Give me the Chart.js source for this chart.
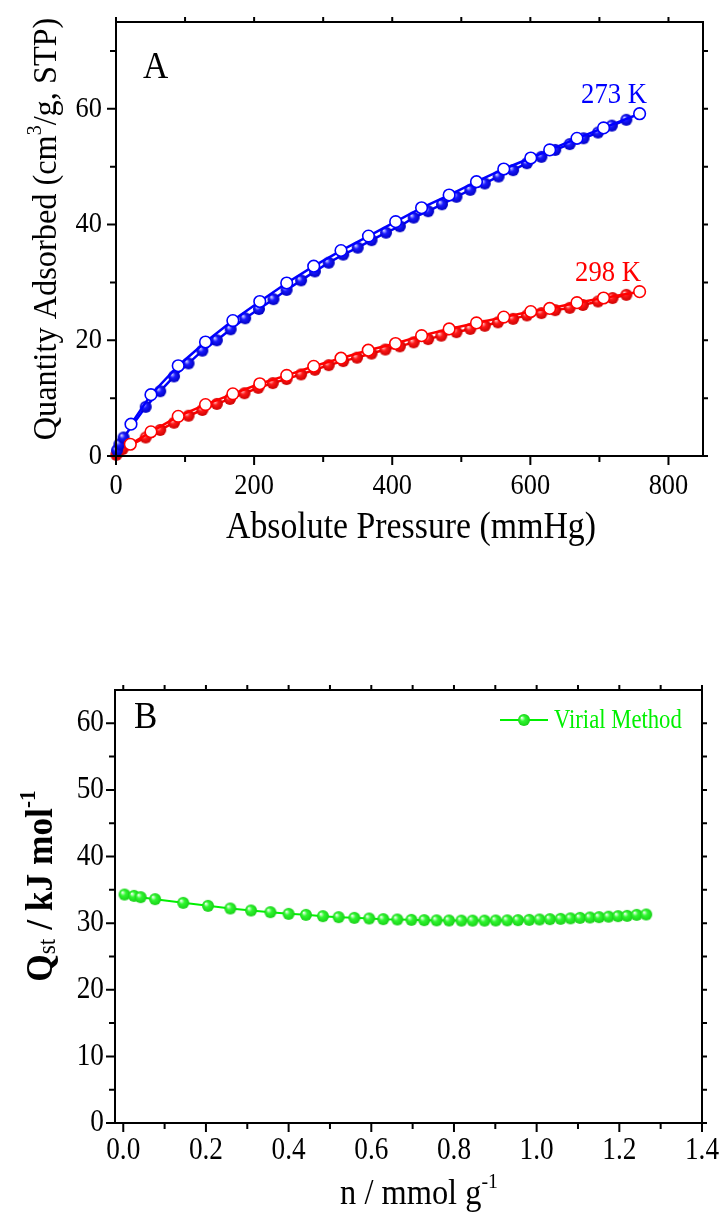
<!DOCTYPE html>
<html><head><meta charset="utf-8">
<script src="https://cdn.jsdelivr.net/npm/chart.js@4.4.0/dist/chart.umd.min.js"></script>
<style>
html,body{margin:0;padding:0;background:#fff;}
#wrap{position:relative;width:724px;height:1216px;overflow:hidden;}
.box{position:absolute;left:0;width:724px;}
</style></head><body>
<div id="wrap">
<div class="box" style="top:0;height:600px"><canvas id="ca" width="724" height="600"></canvas></div>
<div class="box" style="top:600px;height:616px"><canvas id="cb" width="724" height="616"></canvas></div>
</div>
<script>
// ---------- Panel A data (Absolute Pressure mmHg, Quantity Adsorbed cm3/g STP) ----------
const ads273P = [1.5, 4.8, 11, 43, 64, 84, 105, 125, 146, 166, 187, 207, 228, 247, 268, 288, 308, 329, 350, 370, 391, 411, 431, 452, 472, 493, 513, 534, 554, 575, 595, 616, 636, 657, 677, 698, 718, 739];
const ads273Q = [1.0, 2.0, 3.2, 8.5, 11.2, 13.75, 16.0, 18.2, 20.0, 21.9, 23.8, 25.4, 27.1, 28.7, 30.35, 31.9, 33.4, 34.8, 36.0, 37.3, 38.6, 39.7, 41.2, 42.3, 43.5, 44.8, 46.0, 47.1, 48.3, 49.4, 50.6, 51.7, 52.9, 53.9, 54.9, 55.9, 57.1, 58.1];
const des273P = [21.7, 50.6, 90.1, 129.6, 169.2, 208.2, 247.2, 286.3, 325.8, 365.6, 405, 442.5, 482.4, 522, 561.5, 600.6, 628, 667.5, 706, 758.2];
const des273Q = [5.5, 10.6, 15.6, 19.7, 23.4, 26.7, 29.9, 32.8, 35.5, 38.0, 40.5, 42.9, 45.1, 47.4, 49.6, 51.5, 52.9, 54.9, 56.7, 59.15];
const ads298P = [0.5, 2.4, 9.6, 43, 64, 84, 105, 125, 146, 165, 186, 206, 227, 247, 268, 288, 308, 329, 349, 370, 390, 411, 431, 452, 471, 493, 513, 534, 553, 575, 595, 616, 636, 657, 676, 698, 719, 739];
const ads298Q = [0.2, 0.6, 1.2, 3.2, 4.5, 5.75, 6.96, 7.95, 9.0, 9.87, 10.85, 11.78, 12.6, 13.3, 14.1, 14.9, 15.7, 16.4, 17.0, 17.7, 18.4, 18.95, 19.64, 20.2, 20.8, 21.4, 21.96, 22.5, 23.1, 23.7, 24.3, 24.7, 25.2, 25.6, 26.1, 26.7, 27.3, 27.85];
const des298P = [20.7, 50.6, 90.1, 129.6, 169.2, 208.2, 247.2, 286.3, 325.8, 365.3, 404.8, 442.5, 482.4, 522, 561.5, 600.6, 628, 667.5, 706, 758.2];
const des298Q = [2.03, 4.18, 6.85, 8.88, 10.74, 12.48, 13.93, 15.5, 16.9, 18.28, 19.44, 20.8, 21.96, 23.0, 24.0, 24.96, 25.5, 26.5, 27.3, 28.4];
const xTicksA = [0, 200, 400, 600, 800];
const xLabelsA = ['0', '200', '400', '600', '800'];
const xMinorA = [100, 300, 500, 700];
const yTicksA = [0, 20, 40, 60];
const yLabelsA = ['0', '20', '40', '60'];
const yMinorA = [10, 30, 50, 70];

// ---------- Panel B data (n mmol/g, Qst kJ/mol) ----------
const qstN = [0.003, 0.026, 0.042, 0.077, 0.145, 0.205, 0.259, 0.309, 0.356, 0.400, 0.442, 0.483, 0.521, 0.559, 0.595, 0.629, 0.663, 0.697, 0.728, 0.758, 0.788, 0.818, 0.845, 0.874, 0.901, 0.929, 0.955, 0.982, 1.007, 1.032, 1.058, 1.082, 1.105, 1.129, 1.151, 1.174, 1.197, 1.219, 1.242, 1.265];
const qstQ = [34.3, 34.1, 33.9, 33.6, 33.05, 32.6, 32.2, 31.9, 31.65, 31.4, 31.25, 31.05, 30.9, 30.8, 30.7, 30.6, 30.55, 30.5, 30.45, 30.42, 30.4, 30.38, 30.38, 30.38, 30.4, 30.42, 30.45, 30.5, 30.55, 30.6, 30.65, 30.72, 30.8, 30.85, 30.9, 30.98, 31.05, 31.1, 31.25, 31.3];
const xTicksB = [0, 0.2, 0.4, 0.6, 0.8, 1.0, 1.2, 1.4];
const xLabelsB = ['0.0', '0.2', '0.4', '0.6', '0.8', '1.0', '1.2', '1.4'];
const xMinorB = [0.1, 0.3, 0.5, 0.7, 0.9, 1.1, 1.3];
const yTicksB = [0, 10, 20, 30, 40, 50, 60];
const yLabelsB = ['0', '10', '20', '30', '40', '50', '60'];
const yMinorB = [5, 15, 25, 35, 45, 55];

const SERIF = '"Liberation Serif", "Times New Roman", serif';
const BLUE = '#0000ff', RED = '#ff0000', GREEN = '#00f000';

function pts(xs, ys) { return xs.map((v, i) => ({ x: v, y: ys[i] })); }

function sphere(base, light, dark, r) {
  const c = document.createElement('canvas');
  const s = Math.ceil(2 * r + 2);
  c.width = c.height = s;
  const g = c.getContext('2d');
  const cx = s / 2, cy = s / 2;
  const grad = g.createRadialGradient(cx - r * 0.38, cy - r * 0.38, r * 0.05, cx, cy, r);
  grad.addColorStop(0, light);
  grad.addColorStop(0.4, base);
  grad.addColorStop(1, dark);
  g.fillStyle = grad;
  g.beginPath(); g.arc(cx, cy, r, 0, Math.PI * 2); g.fill();
  return c;
}
const sphBlue = sphere('#1a1aff', '#d8dcff', '#0000c0', 6);
const sphRed = sphere('#ff1a1a', '#ffd6d6', '#cc0000', 6);
const sphGreen = sphere('#30f830', '#f4fff4', '#18d018', 6);

function richText(ctx, x, y, segs, o) {
  o = o || {};
  ctx.save();
  ctx.translate(x, y);
  if (o.rot) ctx.rotate(o.rot);
  ctx.scale(o.sx || 1, 1);
  ctx.fillStyle = o.color || '#000';
  ctx.textBaseline = o.baseline || 'alphabetic';
  ctx.textAlign = 'left';
  let w = 0;
  for (const s of segs) { ctx.font = s.font; w += ctx.measureText(s.t).width + (s.dx || 0); }
  let cx = o.align === 'center' ? -w / 2 : o.align === 'right' ? -w : 0;
  for (const s of segs) {
    ctx.font = s.font;
    cx += (s.dx || 0);
    ctx.fillText(s.t, cx, s.dy || 0);
    cx += ctx.measureText(s.t).width;
  }
  ctx.restore();
}

const decor = {
  id: 'decor',
  afterDraw(chart, args, opts) {
    const ctx = chart.ctx, a = chart.chartArea, xs = chart.scales.x, ys = chart.scales.y;
    ctx.save();
    ctx.strokeStyle = '#000'; ctx.lineWidth = 2; ctx.lineCap = 'butt';
    ctx.strokeRect(a.left, a.top, a.right - a.left, a.bottom - a.top);
    const MJ = 8, MN = 5, MIR = 4;
    ctx.beginPath();
    const xt = (vals, len) => vals.forEach(v => {
      const p = xs.getPixelForValue(v);
      ctx.moveTo(p, a.bottom + 1); ctx.lineTo(p, a.bottom + 1 + len);
      ctx.moveTo(p, a.top - 1); ctx.lineTo(p, a.top - 1 - MIR);
    });
    const yt = (vals, len) => vals.forEach(v => {
      const p = ys.getPixelForValue(v);
      ctx.moveTo(a.left - 1, p); ctx.lineTo(a.left - 1 - len, p);
      ctx.moveTo(a.right + 1, p); ctx.lineTo(a.right + 1 + MIR, p);
    });
    xt(opts.xMajor, MJ); xt(opts.xMinor, MN); yt(opts.yMajor, MJ); yt(opts.yMinor, MN);
    ctx.stroke();
    const tf = opts.tickFont;
    opts.xMajor.forEach((v, i) => richText(ctx, xs.getPixelForValue(v), opts.xLabelY, [{ t: opts.xLabels[i], font: tf }], { align: 'center', sx: opts.tickSx }));
    opts.yMajor.forEach((v, i) => richText(ctx, opts.yLabelX, ys.getPixelForValue(v), [{ t: opts.yLabels[i], font: tf }], { align: 'right', baseline: 'middle', sx: opts.tickSx }));
    (opts.texts || []).forEach(T => richText(ctx, T.x, T.y, T.segs, T));
    if (opts.legend) opts.legend(ctx);
    ctx.restore();
  }
};

const common = {
  responsive: false, animation: false, events: [],
  plugins: { legend: { display: false }, tooltip: { enabled: false } }
};

// ---------------- Chart A ----------------
new Chart(document.getElementById('ca'), {
  type: 'scatter',
  data: {
    datasets: [
      { label: '273 K desorption', data: pts(des273P, des273Q), showLine: true, borderColor: BLUE, borderWidth: 2.5,
        pointStyle: 'circle', pointRadius: 5.8, pointBackgroundColor: '#fff', pointBorderColor: BLUE, pointBorderWidth: 1.6, order: 0, clip: false },
      { label: '298 K desorption', data: pts(des298P, des298Q), showLine: true, borderColor: RED, borderWidth: 2.5,
        pointStyle: 'circle', pointRadius: 5.8, pointBackgroundColor: '#fff', pointBorderColor: RED, pointBorderWidth: 1.6, order: 1, clip: false },
      { label: '273 K adsorption', data: pts(ads273P, ads273Q), showLine: true, borderColor: BLUE, borderWidth: 2.5,
        pointStyle: sphBlue, pointRadius: 6, order: 2, clip: false },
      { label: '298 K adsorption', data: pts(ads298P, ads298Q), showLine: true, borderColor: RED, borderWidth: 2.5,
        pointStyle: sphRed, pointRadius: 6, order: 3, clip: false }
    ]
  },
  options: Object.assign({}, common, {
    layout: { padding: { top: 22, right: 21, left: 0, bottom: 0 } },
    scales: {
      x: { type: 'linear', min: 0, max: 850, ticks: { display: false }, grid: { display: false }, border: { display: false },
           afterFit(s) { s.height = 144; } },
      y: { type: 'linear', min: 0, max: 75, ticks: { display: false }, grid: { display: false }, border: { display: false },
           afterFit(s) { s.width = 116; } }
    },
    plugins: Object.assign({}, common.plugins, {
      decor: {
        xMajor: xTicksA, xMinor: xMinorA, yMajor: yTicksA, yMinor: yMinorA,
        xLabels: xLabelsA, yLabels: yLabelsA,
        tickFont: '30px ' + SERIF, tickSx: 0.88, xLabelY: 494, yLabelX: 102,
        texts: [
          { x: 143, y: 78, segs: [{ t: 'A', font: '38px ' + SERIF }], sx: 0.92 },
          { x: 647, y: 103, segs: [{ t: '273 K', font: '29px ' + SERIF }], align: 'right', color: BLUE, sx: 0.92 },
          { x: 641, y: 281, segs: [{ t: '298 K', font: '29px ' + SERIF }], align: 'right', color: RED, sx: 0.92 },
          { x: 411, y: 538, segs: [{ t: 'Absolute Pressure (mmHg)', font: '38px ' + SERIF }], align: 'center', sx: 0.89 },
          { x: 56, y: 229, rot: -Math.PI / 2, align: 'center', sx: 0.95,
            segs: [{ t: 'Quantity Adsorbed (cm', font: '34px ' + SERIF }, { t: '3', font: '21px ' + SERIF, dy: -15 }, { t: '/g, STP)', font: '34px ' + SERIF }] }
        ]
      }
    })
  }),
  plugins: [decor]
});

// ---------------- Chart B ----------------
new Chart(document.getElementById('cb'), {
  type: 'scatter',
  data: {
    datasets: [
      { label: 'Virial Method', data: pts(qstN, qstQ), showLine: true, borderColor: GREEN, borderWidth: 2,
        pointStyle: sphGreen, pointRadius: 6, clip: false }
    ]
  },
  options: Object.assign({}, common, {
    layout: { padding: { top: 90, right: 22, left: 0, bottom: 0 } },
    scales: {
      x: { type: 'linear', min: -0.02, max: 1.4, ticks: { display: false }, grid: { display: false }, border: { display: false },
           afterFit(s) { s.height = 93; } },
      y: { type: 'linear', min: 0, max: 65, ticks: { display: false }, grid: { display: false }, border: { display: false },
           afterFit(s) { s.width = 115; } }
    },
    plugins: Object.assign({}, common.plugins, {
      decor: {
        xMajor: xTicksB, xMinor: xMinorB, yMajor: yTicksB, yMinor: yMinorB,
        xLabels: xLabelsB, yLabels: yLabelsB,
        tickFont: '31px ' + SERIF, tickSx: 0.88, xLabelY: 559, yLabelX: 104,
        texts: [
          { x: 134, y: 128, segs: [{ t: 'B', font: '38px ' + SERIF }], sx: 0.92 },
          { x: 419, y: 604, align: 'center', sx: 0.9,
            segs: [{ t: 'n / mmol g', font: '36px ' + SERIF }, { t: '-1', font: '22px ' + SERIF, dy: -16 }] },
          { x: 52, y: 886 - 600, rot: -Math.PI / 2, align: 'center', sx: 0.93,
            segs: [{ t: 'Q', font: 'bold 38px ' + SERIF }, { t: 'st', font: '25px ' + SERIF, dy: 3 },
                   { t: ' / kJ mol', font: 'bold 38px ' + SERIF }, { t: '-1', font: 'bold 23px ' + SERIF, dy: -17 }] }
        ],
        legend(ctx) {
          ctx.save();
          ctx.strokeStyle = GREEN; ctx.lineWidth = 2;
          ctx.beginPath(); ctx.moveTo(500, 120); ctx.lineTo(548, 120); ctx.stroke();
          ctx.drawImage(sphGreen, 524 - sphGreen.width / 2, 120 - sphGreen.height / 2);
          ctx.restore();
          richText(ctx, 554, 128, [{ t: 'Virial Method', font: '27px ' + SERIF }], { color: GREEN, sx: 0.84 });
        }
      }
    })
  }),
  plugins: [decor]
});
</script>
</body></html>
